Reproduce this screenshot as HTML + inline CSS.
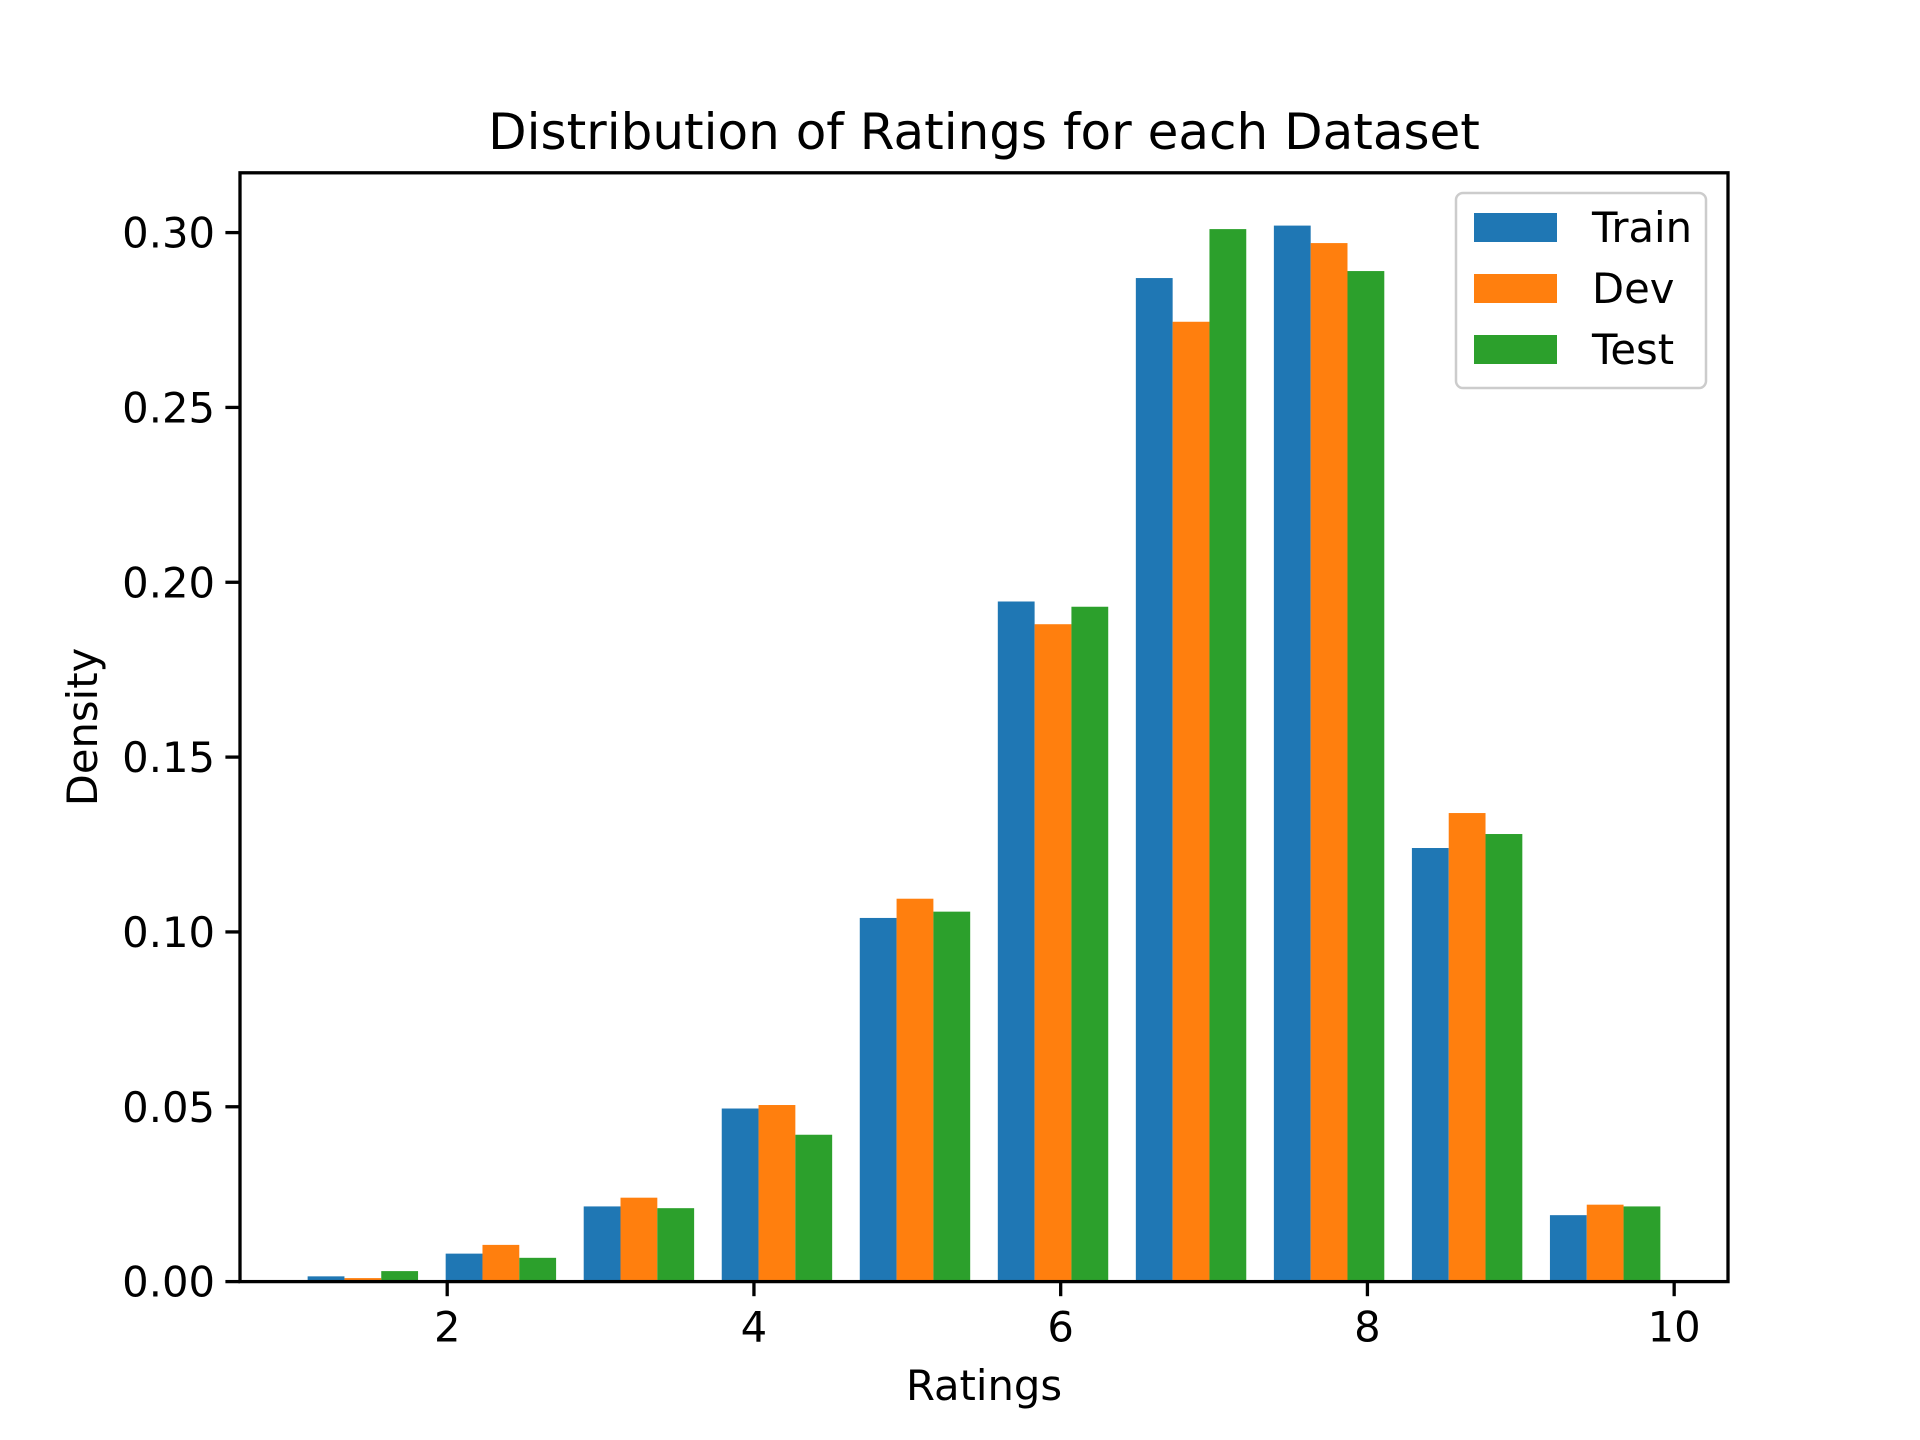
<!DOCTYPE html>
<html><head><meta charset="utf-8"><style>
html,body{margin:0;padding:0;background:#fff}
svg{display:block}
text{font-family:"DejaVu Sans","Liberation Sans",sans-serif;fill:#000}
</style></head><body>
<svg id="chart" width="1920" height="1440" viewBox="0 0 1920 1440">
<rect width="1920" height="1440" fill="#fff"/>
<text x="984" y="149" font-size="50" text-anchor="middle">Distribution of Ratings for each Dataset</text>
<g id="bars"></g>
<g id="axes"></g>
<text x="984" y="1400" font-size="41.7" text-anchor="middle">Ratings</text>
<text transform="translate(97,727) rotate(-90)" font-size="41.7" text-anchor="middle">Density</text>
<g>
<rect x="1456" y="193" width="250" height="195" rx="7" fill="#fff" fill-opacity="0.8" stroke="#ccc" stroke-width="2.5"/>
<rect x="1474" y="213" width="83" height="29" fill="#1f77b4"/>
<text x="1592" y="242" font-size="41.7">Train</text>
<rect x="1474" y="274" width="83" height="29" fill="#ff7f0e"/>
<text x="1592" y="303" font-size="41.7">Dev</text>
<rect x="1474" y="335" width="83" height="29" fill="#2ca02c"/>
<text x="1592" y="364" font-size="41.7">Test</text>
</g>
</svg>
<script>
const binEdgesStart = [1, 1.9, 2.8, 3.7, 4.6, 5.5, 6.4, 7.3, 8.2, 9.1];
const trainValues = [0.0015, 0.008, 0.0215, 0.0495, 0.104, 0.1945, 0.287, 0.302, 0.124, 0.019];
const devValues = [0.001, 0.0105, 0.024, 0.0505, 0.1095, 0.188, 0.2745, 0.297, 0.134, 0.022];
const testValues = [0.003, 0.0068, 0.021, 0.042, 0.1058, 0.193, 0.301, 0.289, 0.128, 0.0215];
const xTicks = [2, 4, 6, 8, 10];
const yTicks = [0, 0.05, 0.10, 0.15, 0.20, 0.25, 0.30];
const yTickLabels = ["0.00", "0.05", "0.10", "0.15", "0.20", "0.25", "0.30"];

const NS = "http://www.w3.org/2000/svg";
const L = 240, R = 1728, T = 172.8, B = 1281.6;
const binWidth = 0.9;
const xmin = 0.649, xmax = 10.351, ymin = 0, ymax = 0.3171;
const sx = v => L + (v - xmin) / (xmax - xmin) * (R - L);
const sy = v => B - (v - ymin) / (ymax - ymin) * (B - T);
function mk(tag, attrs, parent) {
  const e = document.createElementNS(NS, tag);
  for (const k in attrs) e.setAttribute(k, attrs[k]);
  parent.appendChild(e);
  return e;
}
const barsG = document.getElementById("bars");
const series = [["train", trainValues, "#1f77b4"], ["dev", devValues, "#ff7f0e"], ["test", testValues, "#2ca02c"]];
const barW = binWidth * 0.8 / 3;
series.forEach((s, si) => {
  s[1].forEach((v, i) => {
    const x0 = binEdgesStart[i] + binWidth * 0.1 + si * barW;
    const r = mk("rect", {x: sx(x0), y: sy(v), width: sx(x0 + barW) - sx(x0), height: sy(0) - sy(v), fill: s[2]}, barsG);
    
    
  });
});
const ax = document.getElementById("axes");
const frame = mk("rect", {x: L, y: T, width: R - L, height: B - T, fill: "none", stroke: "#000", "stroke-width": 3.3}, ax);


xTicks.forEach(t => {
  const x = sx(t);
  mk("line", {x1: x, x2: x, y1: B, y2: B + 14.6, stroke: "#000", "stroke-width": 3.3}, ax);
  const tx = mk("text", {x: x, y: B + 60, "font-size": 41.7, "text-anchor": "middle"}, ax);
  tx.textContent = t;
  
  
});
yTicks.forEach((t, i) => {
  const y = sy(t);
  mk("line", {x1: L - 14.6, x2: L, y1: y, y2: y, stroke: "#000", "stroke-width": 3.3}, ax);
  const tx = mk("text", {x: L - 25, y: y + 15, "font-size": 41.7, "text-anchor": "end"}, ax);
  tx.textContent = yTickLabels[i];
  
  
});
</script>
</body></html>
